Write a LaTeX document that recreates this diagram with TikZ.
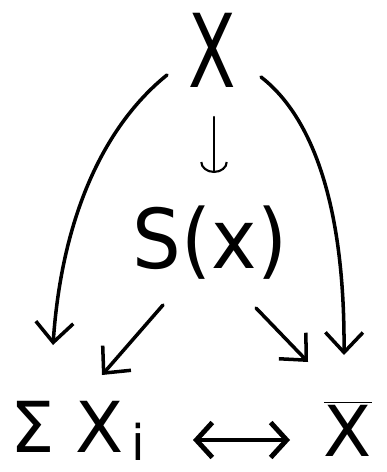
\documentclass[tikz,border=0pt]{standalone}
\usepackage{fontspec}
\setmainfont{DejaVu Sans}
\usetikzlibrary{arrows.meta,calc}
\tikzset{
  bigtxt/.style={font=\fontsize{58}{64}\selectfont, inner sep=0pt},
  midtxt/.style={font=\fontsize{47}{54}\selectfont, inner sep=0pt},
  lowtxt/.style={font=\fontsize{40}{46}\selectfont, inner sep=0pt},
  pen/.style={line width=2pt, line cap=round, line join=round},
  barb/.style={pen, -{Straight Barb[length=0.4cm, width=0.75cm, line width=2pt]}},
  hook/.style={line width=1.2pt, line cap=round, -{Arc Barb[length=0.22cm, width=0.55cm]}},
}
\begin{document}
\begin{tikzpicture}[x=0.02cm, y=-0.02cm]
	\useasboundingbox (0,0) rectangle (386,472);
	\node[bigtxt] (X) at (212,50) {\scalebox{0.68}[1]{X}};
	\node[midtxt] (S) at (210,243) {\scalebox{0.93}[1]{S(x)}};
	\node[lowtxt, anchor=base west] (sum) at (10,452) {Σ\hspace{0.3em}X\hspace{0.1em}\raisebox{-0.12em}{\fontsize{28}{30}\selectfont i}};
	\node[lowtxt, anchor=base] (xbar) at (348,456) {$\overline{\mbox{X}}$};
	\draw[hook] ($(X.center)+(2,67)$) -- ($(S.center)+(4,-70)$);
	\draw[barb] ($(X.center)+(-45,25)$) .. controls (105,125) and (62,215) .. ($(sum.base west)+(43,-107)$);
	\draw[barb] ($(X.center)+(49,27)$) .. controls (310,115) and (345,200) .. ($(xbar.base)+(-4,-101)$);
	\draw[barb] ($(S.center)+(-47,62)$) -- ($(sum.base west)+(92,-77)$);
	\draw[barb] ($(S.center)+(46,65)$) -- ($(xbar.base)+(-40,-94)$);
	\draw[pen, line width=2.8pt, {Straight Barb[length=0.32cm, width=0.7cm]}-{Straight Barb[length=0.32cm, width=0.7cm]}] ($(sum.base west)+(183,-12)$) -- ($(xbar.base)+(-58,-16)$);
\end{tikzpicture}
\end{document}
